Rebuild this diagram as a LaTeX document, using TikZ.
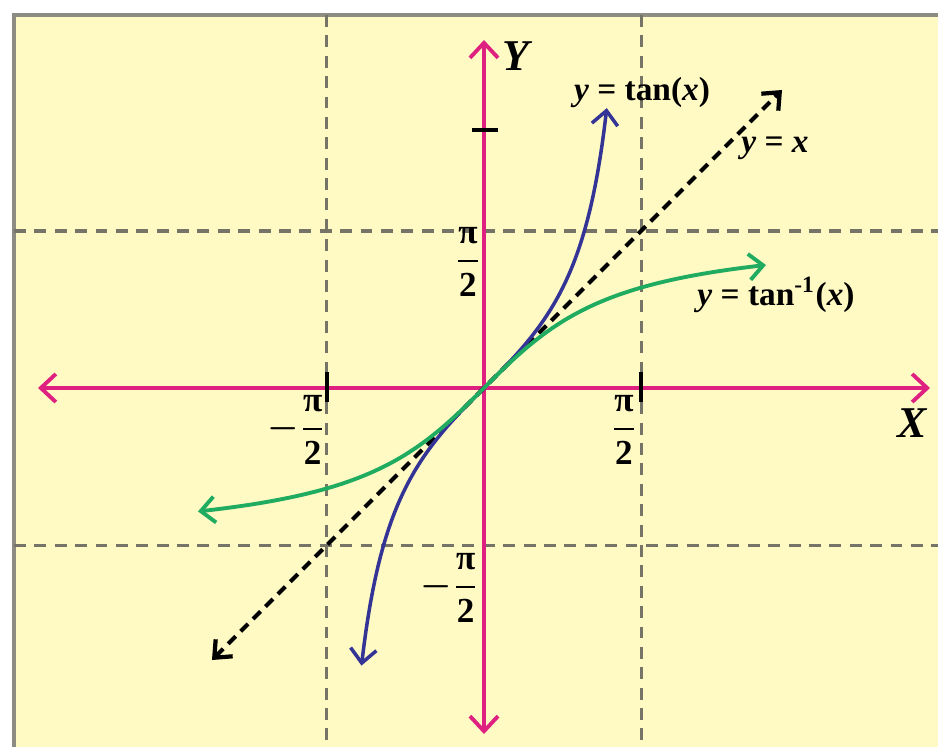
\documentclass[tikz,border=0pt]{standalone}
\usepackage{amsmath}
\usepackage{fontspec}
\setmainfont{Liberation Serif}
\usetikzlibrary{arrows.meta}
\definecolor{paperyellow}{RGB}{255,249,196}
\definecolor{framegray}{RGB}{140,140,130}
\definecolor{axismagenta}{RGB}{222,32,128}
\definecolor{tanblue}{RGB}{52,52,150}
\definecolor{atangreen}{RGB}{32,172,96}
\definecolor{gridgray}{RGB}{118,116,102}
\newcommand{\bi}[1]{\textbf{\textit{#1}}}
\newcommand{\halfpi}{\dfrac{\textbf{π}}{\textbf{2}}}
\tikzset{
  gaxis/.style ={line width=1.1pt, axismagenta,
                 {Straight Barb[length=1.5mm,width=2.8mm]}-{Straight Barb[length=1.5mm,width=2.8mm]}},
  ggrid/.style ={line width=0.9pt, gridgray, dash pattern=on 3.4pt off 2.4pt},
  gtick/.style ={line width=1.1pt, black},
  gident/.style={line width=1.2pt, black, dash pattern=on 3pt off 2pt,
                 {Straight Barb[length=1.4mm,width=2.4mm]}-{Straight Barb[length=1.4mm,width=2.4mm]}},
  gtan/.style  ={line width=1pt, tanblue,
                 {Straight Barb[length=1.4mm,width=2.6mm]}-{Straight Barb[length=1.4mm,width=2.6mm]}},
  gatan/.style ={line width=1.1pt, atangreen,
                 {Straight Barb[length=1.4mm,width=2.6mm]}-{Straight Barb[length=1.4mm,width=2.6mm]}},
  glabel/.style={font=\fontsize{9.5}{11}\selectfont\bfseries, inner sep=1pt},
  gaxlabel/.style={font=\fontsize{12.5}{14}\selectfont\bfseries\itshape, inner sep=1pt},
  gfrac/.style ={font=\fontsize{10}{12}\selectfont\boldmath, inner sep=1pt},
}

\begin{document}
\begin{tikzpicture}
\useasboundingbox (-4.84,-3.59) rectangle (4.54,3.88);
% paper
\fill[paperyellow] (-4.70,-3.59) rectangle (4.54,3.73);
\draw[framegray, line width=1.2pt] (-4.70,-3.59) -- (-4.70,3.73) -- (4.54,3.73);
% grid lines at +-pi/2
\draw[ggrid] (-1.5708,3.73) -- (-1.5708,-3.59);
\draw[ggrid] (1.5708,3.73) -- (1.5708,-3.59);
\draw[ggrid] (-4.70,1.5708) -- (4.54,1.5708);
\draw[ggrid] (-4.70,-1.5708) -- (4.54,-1.5708);
% axes
\coordinate (xl) at (-4.46,0); \coordinate (xr) at (4.46,0);
\coordinate (yb) at (0,-3.46); \coordinate (yt) at (0,3.48);
\draw[gaxis] (xl) -- (xr);
\draw[gaxis] (yb) -- (yt);
\draw[gtick] (-1.5708,0.16) -- (-1.5708,-0.14);
\draw[gtick] (1.5708,0.16) -- (1.5708,-0.14);
\draw[gtick] (-0.12,2.58) -- (0.14,2.58);
% curves
\coordinate (il) at (-2.72,-2.72); \coordinate (ir) at (2.98,2.98);
\draw[gident] (il) -- (ir);
\draw[gtan] plot[domain=-1.225:1.228, samples=90, smooth] (\x, {tan(\x r)});
\draw[gatan] plot[domain=-2.86:2.82, samples=60, smooth] (\x, {rad(atan(\x))});
% labels
\node[gaxlabel] (lblY) at (0.32,3.32) {Y};
\node[gaxlabel] (lblX) at (4.28,-0.35) {X};
\node[glabel] (lbltan) at (1.58,2.95) {\bi{y} = tan(\bi{x})};
\node[glabel] (lblid) at (2.91,2.40) {\bi{y} = \bi{x}};
\node[glabel] (lblatan) at (2.92,0.93) {\bi{y} = tan\textsuperscript{-1}(\bi{x})};
\node[gfrac] (fracyp) at (-0.16,1.26) {$\halfpi$};
\node[gfrac] (fracxm) at (-1.87,-0.42) {$-\halfpi$};
\node[gfrac] (fracxp) at (1.40,-0.42) {$\halfpi$};
\node[gfrac] (fracym) at (-0.34,-2.00) {$-\halfpi$};
\end{tikzpicture}
\end{document}
